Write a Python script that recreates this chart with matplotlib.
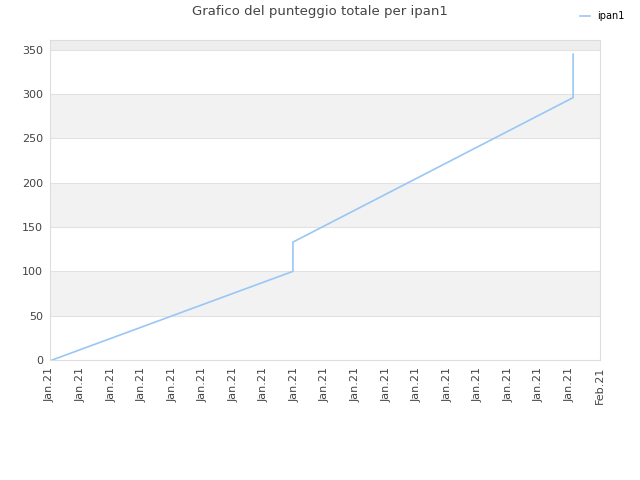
import numpy as np
import matplotlib
matplotlib.use("Agg")
import matplotlib.pyplot as plt

# data
x_pos = [0.07, 7.95, 7.95, 17.12, 17.12]
score = [0, 100, 133, 296, 345]
tick_labels = ["Jan.21"] * 18 + ["Feb.21"]
y_ticks = [0, 50, 100, 150, 200, 250, 300, 350]

fig = plt.figure(figsize=(6.4, 4.8), dpi=100)
ax = fig.add_axes([50 / 640, 1 - 360 / 480, 550 / 640, 320 / 480])

ymax = 361
ax.set_xlim(0, 18)
ax.set_ylim(0, ymax)

# alternating background bands
for i, lo in enumerate(range(0, 400, 50)):
    hi = min(lo + 50, ymax)
    col = "#f2f2f2" if i % 2 == 1 else "white"
    ax.axhspan(lo, hi, color=col, zorder=0, lw=0)
ax.axhspan(350, ymax, color="#eeeeee", zorder=0, lw=0)
for v in y_ticks[1:]:
    ax.axhline(v, color="#e2e2e2", lw=0.8, zorder=1)

ax.plot(x_pos, score, color="#99c7f5", lw=1.2, label="ipan1", zorder=3)

ax.set_yticks(y_ticks)
ax.set_xticks(np.arange(19))
ax.set_xticklabels(tick_labels, rotation=90)
ax.tick_params(axis="both", length=0, labelsize=8, colors="#444444", pad=5)

for s in ax.spines.values():
    s.set_color("#dddddd")
    s.set_linewidth(0.8)

fig.text(0.5, 0.99, "Grafico del punteggio totale per ipan1", ha="center", va="top",
         fontsize=9.5, color="#444444")
leg = fig.legend(loc="upper right", bbox_to_anchor=(0.99, 0.995), frameon=False,
                 fontsize=7, handlelength=1.0, handletextpad=0.8)

fig.savefig("out.png", dpi=100)
